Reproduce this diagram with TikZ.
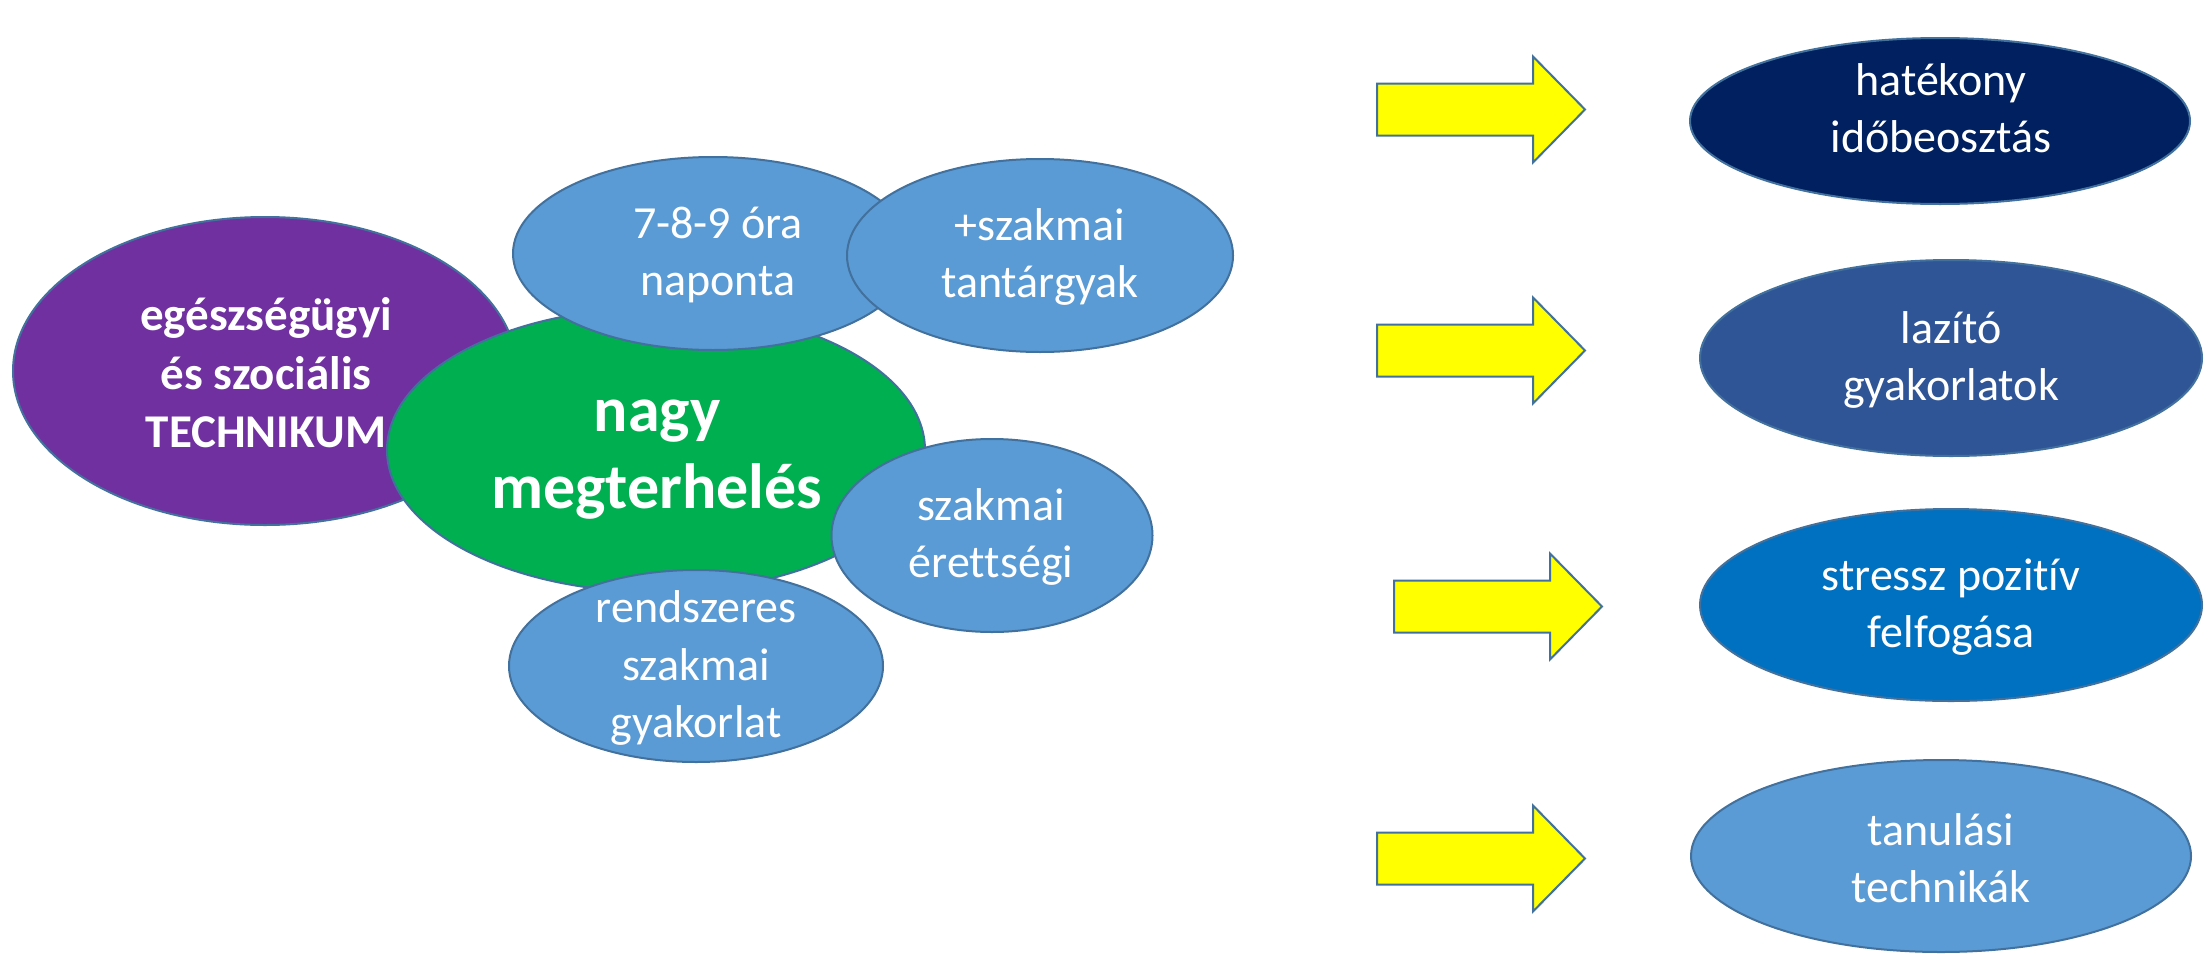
\documentclass[tikz,border=0pt]{standalone}
\usepackage{fontspec}
\setmainfont[Ligatures=NoCommon]{Carlito}
\usetikzlibrary{shapes.geometric}
\definecolor{cpurple}{HTML}{7030A0}
\definecolor{cgreen}{HTML}{00B050}
\definecolor{clight}{HTML}{5B9BD5}
\definecolor{cnavy}{HTML}{002060}
\definecolor{cmid}{HTML}{2F5597}
\definecolor{cblue}{HTML}{0070C0}
\definecolor{cedge}{HTML}{41719C}
\definecolor{cyel}{HTML}{FFFF00}
\begin{document}
\begin{tikzpicture}[x=1pt,y=-1pt,
  bubble/.style={ellipse, draw=cedge, line width=2pt, inner sep=0pt},
  txt/.style={text=white, align=center, inner sep=0pt, font=\fontsize{46}{57.5}\selectfont},
  btxt/.style={text=white, align=center, inner sep=0pt, font=\bfseries\fontsize{47}{58.5}\selectfont},
  bigtxt/.style={text=white, align=center, inner sep=0pt, font=\bfseries\fontsize{64}{77}\selectfont},
  yarrow/.pic={\draw[fill=cyel, draw=cedge, line width=2pt, line join=miter]
     (0,-26) -- (156,-26) -- (156,-53) -- (208,0) -- (156,53) -- (156,26) -- (0,26) -- cycle;}
]
\useasboundingbox (0,0) rectangle (2211,953);
\fill[white] (0,0) rectangle (2211,953);

% left cluster
\node[bubble, fill=cpurple, minimum width=504, minimum height=308] (tech) at (265,371) {};
\node[btxt] (techt) at (266,373) {egészségügyi\\és szociális\\TECHNIKUM};
\node[bubble, fill=cgreen, minimum width=538, minimum height=284] (nagy) at (656,450) {};
\node[bigtxt] (nagyt) at (657,460) {nagy\\megterhelés};
\node[bubble, fill=clight, minimum width=400, minimum height=193] (ora) at (713,253.5) {};
\node[txt] (orat) at (718,255) {7-8-9 óra\\naponta};
\node[bubble, fill=clight, minimum width=386, minimum height=193] (tant) at (1040,255.5) {};
\node[txt] (tantt) at (1040,257) {+szakmai\\tantárgyak};
\node[bubble, fill=clight, minimum width=321, minimum height=193] (eret) at (992,535.5) {};
\node[txt] (erett) at (991,537) {szakmai\\érettségi};
\node[bubble, fill=clight, minimum width=374, minimum height=192] (gyak) at (696,666) {};
\node[txt] (gyakt) at (696,668) {rendszeres\\szakmai\\gyakorlat};

% arrows
\pic at (1377,109.5) {yarrow};
\pic at (1377,350.5) {yarrow};
\pic at (1394,606.5) {yarrow};
\pic at (1377,858.5) {yarrow};

% right column
\node[bubble, fill=cnavy, minimum width=500, minimum height=166] (hat) at (1940,121) {};
\node[txt] (hatt) at (1941,108) {hatékony\\időbeosztás};
\node[bubble, fill=cmid, minimum width=502, minimum height=196] (laz) at (1951,358) {};
\node[txt] (lazt) at (1951,360) {lazító\\gyakorlatok};
\node[bubble, fill=cblue, minimum width=502, minimum height=192] (str) at (1951,605) {};
\node[txt] (strt) at (1951,607) {stressz pozitív\\felfogása};
\node[bubble, fill=clight, minimum width=500, minimum height=192] (tan) at (1941,856) {};
\node[txt] (tant2) at (1941,858) {tanulási\\technikák};
\end{tikzpicture}
\end{document}
